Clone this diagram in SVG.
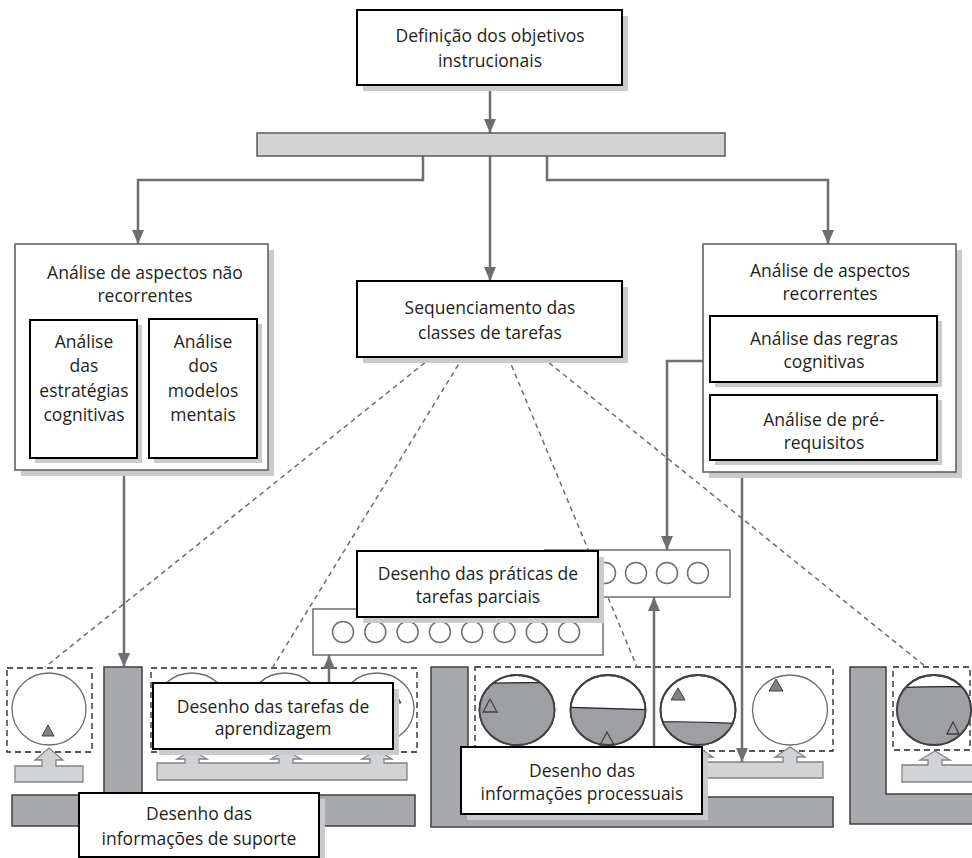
<svg xmlns="http://www.w3.org/2000/svg" width="972" height="858" viewBox="0 0 972 858">
<defs>
<style>
text{font-family:"Open Sans","Noto Sans","DejaVu Sans",sans-serif;font-size:17.5px;fill:#231f20;text-anchor:middle}
.box{fill:#fff;stroke:#000;stroke-width:2}
.outer{fill:#fff;stroke:#58595b;stroke-width:1.5}
.shadow{fill:#c9cacc}
.conn{fill:none;stroke:#6d6e71;stroke-width:2.5}
.dash{fill:none;stroke:#6d6e71;stroke-width:1.5;stroke-dasharray:5 4}
.dbox{fill:none;stroke:#231f20;stroke-width:1.3;stroke-dasharray:6 4}
.bar{fill:#a7a9ac;stroke:#414042;stroke-width:1.5}
.lbar{fill:#d1d3d4;stroke:#808285;stroke-width:1.3}
.circ{fill:#fff;stroke:#414042;stroke-width:1.8}
.cline{fill:none;stroke:#414042;stroke-width:1.8}
.thin{fill:#fff;stroke:#6d6e71;stroke-width:1.3}
.water{fill:#9d9fa2}
.lvl{fill:none;stroke:#231f20;stroke-width:1.2}
.tri{fill:#808285;stroke:#414042;stroke-width:1}
.otri{fill:none;stroke:#414042;stroke-width:1.3}
.scirc{fill:none;stroke:#6d6e71;stroke-width:1.5}
.cbox{fill:#fff;stroke:#6d6e71;stroke-width:1.5}
.gbar{fill:#d1d3d4;stroke:#58595b;stroke-width:1.5}
</style>
<marker id="arr" markerUnits="userSpaceOnUse" markerWidth="14" markerHeight="12" refX="14" refY="6" orient="auto" viewBox="0 0 14 12"><path d="M0,0 L14,6 L0,12 z" fill="#6d6e71"/></marker>
<clipPath id="cp1"><ellipse cx="517" cy="710" rx="37.5" ry="35"/></clipPath>
<clipPath id="cp2"><ellipse cx="608" cy="710" rx="37.5" ry="35"/></clipPath>
<clipPath id="cp3"><ellipse cx="698" cy="710" rx="37.5" ry="35"/></clipPath>
<clipPath id="cp5"><ellipse cx="934" cy="710" rx="37" ry="35"/></clipPath>
</defs>

<!-- lower scenery -->
<g id="sec-support">
<path class="bar" d="M104,667 H142 V795 H415 V826 H12 V795 H104 Z"/>
<rect class="dbox" x="7" y="668" width="85" height="84"/>
<ellipse class="thin" cx="49" cy="709" rx="37" ry="36"/>
<polygon class="tri" points="42,736 48,725 54,736"/>
<path class="lbar" d="M15,766 H42 V760 H35 L49,748 L63,760 H56 V766 H83 V782 H15 Z"/>
<rect class="dbox" x="151" y="668" width="266" height="84"/>
<ellipse class="thin" cx="192" cy="708" rx="37" ry="35"/>
<ellipse class="thin" cx="285" cy="708" rx="37" ry="35"/>
<ellipse class="thin" cx="377" cy="708" rx="37" ry="35"/>
<polygon class="tri" points="389,703 395,692 401,703"/>
<path class="lbar" d="M157,763 H185 V759 H177 L192,750 L207,759 H199 V763 H279 V759 H271 L286,750 L301,759 H293 V763 H370 V759 H362 L377,750 L392,759 H384 V763 H407 V780 H157 Z"/>
</g>

<g id="sec-procedural">
<path class="bar" d="M431,667 H468 V797 H833 V827 H431 Z"/>
<rect class="dbox" x="475" y="667" width="358" height="84"/>
<ellipse class="circ" cx="517" cy="710" rx="37.5" ry="35"/>
<path class="water" clip-path="url(#cp1)" d="M470,684 Q517,682 565,683 V760 H470 Z"/>
<path class="lvl" clip-path="url(#cp1)" d="M470,684 Q517,682 565,683"/>
<ellipse class="cline" cx="517" cy="710" rx="37.5" ry="35"/>
<polygon class="otri" points="483,712 490,699 497,712"/>
<ellipse class="circ" cx="608" cy="710" rx="37.5" ry="35"/>
<path class="water" clip-path="url(#cp2)" d="M560,707 L660,710 V760 H560 Z"/>
<path class="lvl" clip-path="url(#cp2)" d="M560,707 L660,710"/>
<ellipse class="cline" cx="608" cy="710" rx="37.5" ry="35"/>
<polygon class="otri" points="600,745 607,732 614,745"/>
<ellipse class="circ" cx="698" cy="710" rx="37.5" ry="35"/>
<path class="water" clip-path="url(#cp3)" d="M650,722 Q698,721 745,724 V760 H650 Z"/>
<path class="lvl" clip-path="url(#cp3)" d="M650,722 Q698,721 745,724"/>
<ellipse class="cline" cx="698" cy="710" rx="37.5" ry="35"/>
<polygon class="tri" points="671,700 678,688 685,700"/>
<ellipse class="thin" cx="790" cy="710" rx="37.5" ry="35"/>
<polygon class="tri" points="769,691 776,679 783,691"/>
<path class="lbar" d="M478,762 H510 V757 H502 L517,747 L532,757 H524 V762 H601 V757 H593 L608,747 L623,757 H615 V762 H691 V757 H683 L698,747 L713,757 H705 V762 H783 V757 H775 L790,747 L805,757 H797 V762 H823 V778 H478 Z"/>
</g>

<g id="sec-right">
<path class="bar" d="M850,667 H886 V794 H980 V824 H850 Z"/>
<rect class="dbox" x="893" y="667" width="77" height="83"/>
<ellipse class="circ" cx="934" cy="710" rx="37" ry="35"/>
<path class="water" clip-path="url(#cp5)" d="M890,688 Q934,686 980,687 V760 H890 Z"/>
<path class="lvl" clip-path="url(#cp5)" d="M890,688 Q934,686 980,687"/>
<ellipse class="cline" cx="934" cy="710" rx="37" ry="35"/>
<polygon class="otri" points="947,734 953,722 959,734"/>
<path class="lbar" d="M902,765 H928 V760 H920 L935,751 L950,760 H942 V765 H980 V782 H902 Z"/>
</g>

<!-- connectors -->
<g id="connectors">
<path class="dash" d="M432,357 L45,667"/>
<path class="dash" d="M463,357 L273,667"/>
<path class="dash" d="M508,357 L637,667"/>
<path class="dash" d="M542,357 L926,667"/>
<path class="conn" marker-end="url(#arr)" d="M490,85 V133"/>
<path class="conn" marker-end="url(#arr)" d="M423,156 V180 H138 V244"/>
<path class="conn" marker-end="url(#arr)" d="M490,156 V281"/>
<path class="conn" marker-end="url(#arr)" d="M547,156 V180 H828 V244"/>
<path class="conn" marker-end="url(#arr)" d="M124,470 V667"/>
<path class="conn" marker-end="url(#arr)" d="M703,361 H667 V550"/>
<path class="conn" marker-end="url(#arr)" d="M742,472 V762"/>
<path class="conn" marker-end="url(#arr)" d="M654,765 V597"/>
<path class="conn" marker-end="url(#arr)" d="M329,705 V655"/>
</g>

<!-- nodes -->
<g id="n-objetivos">
<rect class="shadow" x="363" y="16" width="265" height="75"/>
<rect class="box" x="357" y="10" width="265" height="75"/>
<text x="490" y="42">Definição dos objetivos</text>
<text x="490" y="67">instrucionais</text>
</g>

<g id="n-barra">
<rect class="gbar" x="257" y="133" width="468" height="23"/>
</g>

<g id="n-nao-recorrentes">
<rect class="shadow" x="21" y="250" width="253" height="226"/>
<rect class="outer" x="15" y="244" width="253" height="226"/>
<text x="145" y="279">Análise de aspectos não</text>
<text x="145" y="302">recorrentes</text>
</g>
<g id="n-estrategias">
<rect class="shadow" x="35" y="325" width="107" height="138"/>
<rect class="box" x="30" y="320" width="107" height="138"/>
<text x="84" y="348">Análise</text>
<text x="84" y="372">das</text>
<text x="84" y="397">estratégias</text>
<text x="84" y="421">cognitivas</text>
</g>
<g id="n-modelos">
<rect class="shadow" x="154" y="324" width="108" height="139"/>
<rect class="box" x="149" y="319" width="108" height="139"/>
<text x="203" y="348">Análise</text>
<text x="203" y="372">dos</text>
<text x="203" y="397">modelos</text>
<text x="203" y="421">mentais</text>
</g>

<g id="n-sequenciamento">
<rect class="shadow" x="363" y="287" width="265" height="76"/>
<rect class="box" x="357" y="281" width="265" height="76"/>
<text x="490" y="314">Sequenciamento das</text>
<text x="490" y="339">classes de tarefas</text>
</g>

<g id="n-recorrentes">
<rect class="shadow" x="709" y="250" width="253" height="228"/>
<rect class="outer" x="703" y="244" width="253" height="228"/>
<text x="830" y="277">Análise de aspectos</text>
<text x="830" y="300">recorrentes</text>
</g>
<g id="n-regras">
<rect class="shadow" x="715" y="321" width="227" height="66"/>
<rect class="box" x="710" y="316" width="227" height="66"/>
<text x="824" y="345">Análise das regras</text>
<text x="824" y="368">cognitivas</text>
</g>
<g id="n-prerequisitos">
<rect class="shadow" x="715" y="400" width="227" height="65"/>
<rect class="box" x="710" y="395" width="227" height="65"/>
<text x="824" y="426">Análise de pré-</text>
<text x="824" y="449">requisitos</text>
</g>

<g id="n-circulos-parciais">
<rect class="cbox" x="545" y="550" width="185" height="47"/>
<circle class="scirc" cx="574" cy="573" r="10.5"/>
<circle class="scirc" cx="605" cy="573" r="10.5"/>
<circle class="scirc" cx="636" cy="573" r="10.5"/>
<circle class="scirc" cx="667" cy="573" r="10.5"/>
<circle class="scirc" cx="698" cy="573" r="10.5"/>
</g>

<g id="n-circulos-aprendizagem">
<rect class="cbox" x="313" y="609" width="290" height="46"/>
<circle class="scirc" cx="343" cy="632" r="10.5"/>
<circle class="scirc" cx="375.3" cy="632" r="10.5"/>
<circle class="scirc" cx="407.6" cy="632" r="10.5"/>
<circle class="scirc" cx="439.9" cy="632" r="10.5"/>
<circle class="scirc" cx="472.2" cy="632" r="10.5"/>
<circle class="scirc" cx="504.5" cy="632" r="10.5"/>
<circle class="scirc" cx="536.8" cy="632" r="10.5"/>
<circle class="scirc" cx="569.1" cy="632" r="10.5"/>
</g>

<g id="n-praticas">
<rect class="shadow" x="363" y="557" width="241" height="66"/>
<rect class="box" x="357" y="551" width="241" height="66"/>
<text x="478" y="580">Desenho das práticas de</text>
<text x="478" y="603">tarefas parciais</text>
</g>

<g id="n-tarefas">
<rect class="shadow" x="159" y="689" width="240" height="66"/>
<rect class="box" x="153" y="683" width="240" height="66"/>
<text x="273" y="713">Desenho das tarefas de</text>
<text x="273" y="735">aprendizagem</text>
</g>

<g id="n-suporte">
<rect class="shadow" x="85" y="799" width="240" height="64"/>
<rect class="box" x="79" y="793" width="240" height="64"/>
<text x="199" y="820">Desenho das</text>
<text x="199" y="845">informações de suporte</text>
</g>

<g id="n-processuais">
<rect class="shadow" x="467" y="753" width="241" height="67"/>
<rect class="box" x="461" y="747" width="241" height="67"/>
<text x="582" y="777">Desenho das</text>
<text x="582" y="800">informações processuais</text>
</g>
</svg>
